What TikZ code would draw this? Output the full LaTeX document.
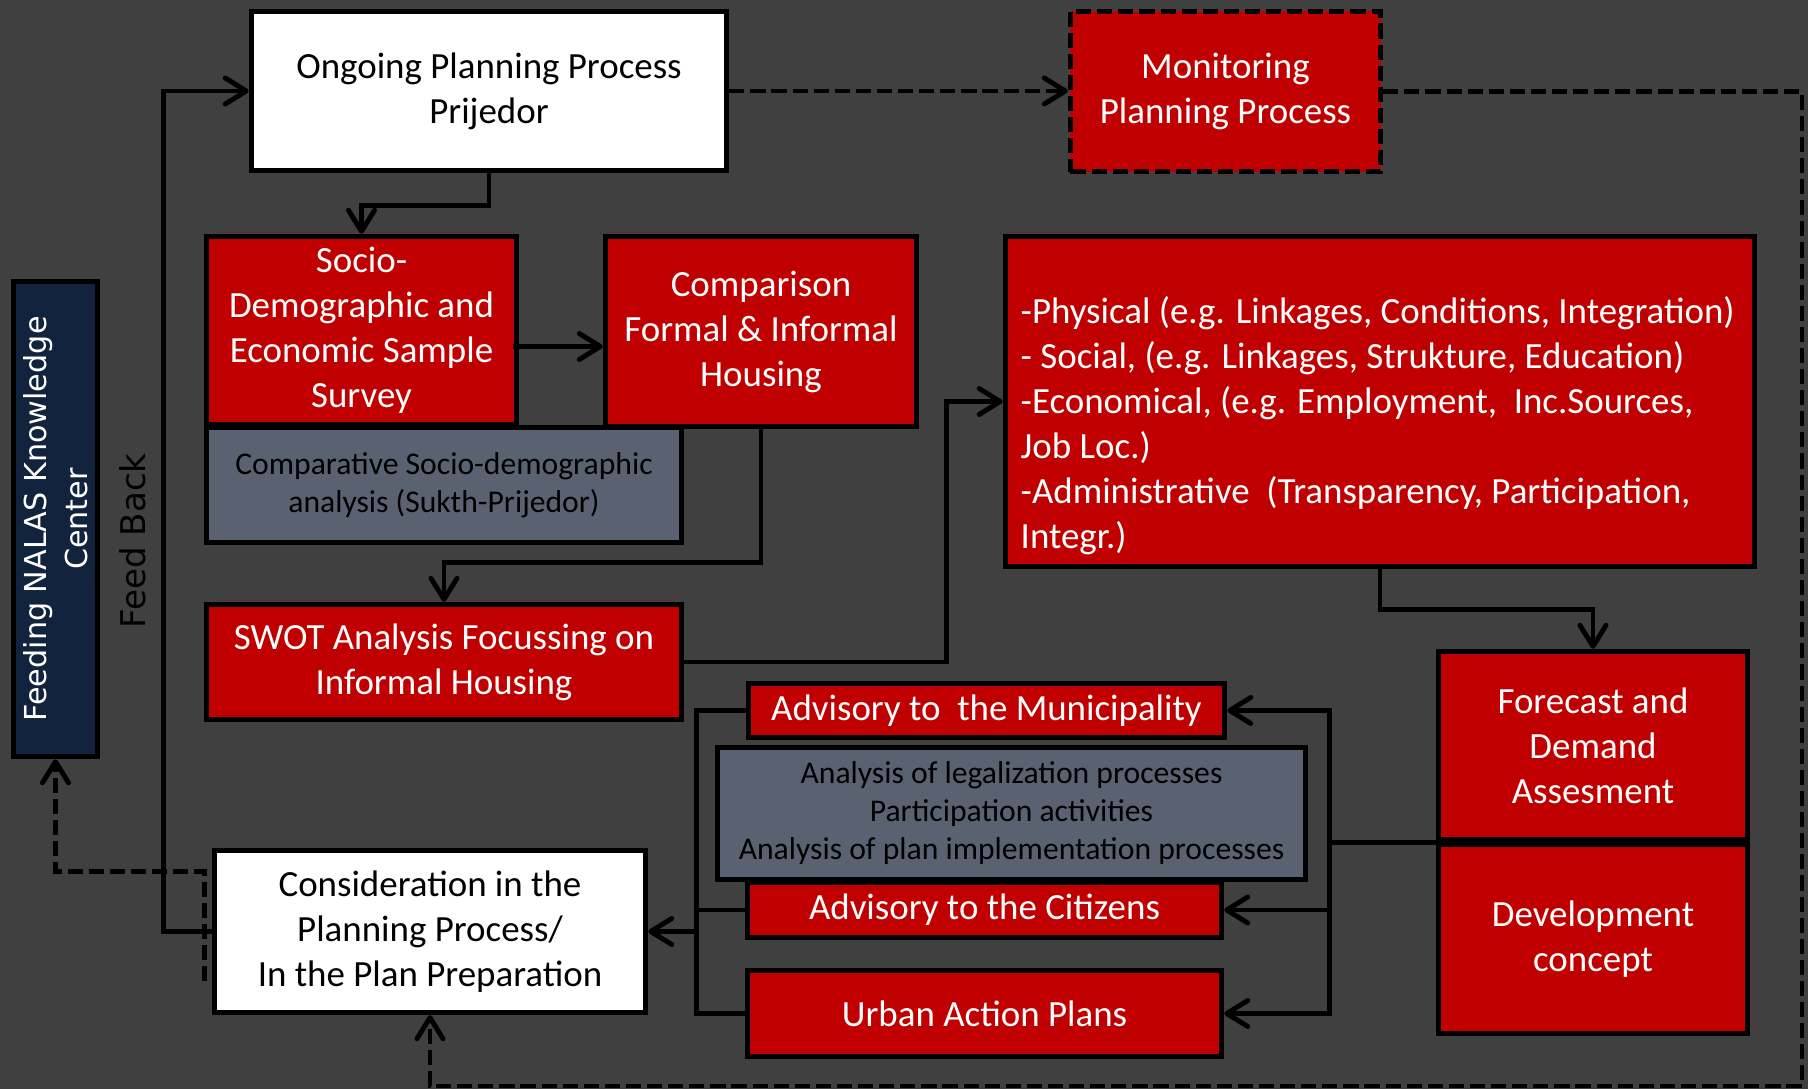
\documentclass[tikz,border=0pt]{standalone}
\usepackage{fontspec}
\setmainfont{Carlito}
\newfontfamily\gothicfont{DejaVu Sans}
\usepackage{tikz}
\usetikzlibrary{arrows.meta, calc, positioning}
\definecolor{bgdark}{HTML}{404040}
\definecolor{boxred}{HTML}{C00000}
\definecolor{slate}{HTML}{5A6271}
\definecolor{navy}{HTML}{12233D}

\begin{document}
\begin{tikzpicture}[x=0.01cm, y=-0.01cm,
  box/.style={draw=black, line width=1.5pt, inner sep=1pt, align=center,
    font=\fontsize{10.5}{12.8}\selectfont},
  whitebox/.style={box, fill=white, text=black},
  redbox/.style={box, fill=boxred, text=white},
  greybox/.style={box, fill=slate, text=black, font=\fontsize{9}{10.8}\selectfont},
  line/.style={line width=1.4pt},
  conn/.style={line, -{Straight Barb[length=2.1mm, width=2.6mm, round]}},
  dline/.style={line, dash pattern=on 4.3pt off 1.7pt},
  dconn/.style={dline, -{Straight Barb[length=2.1mm, width=2.6mm, round]}}]

% background and page size
\fill[bgdark] (0,0) rectangle (1808,1089);
\useasboundingbox (0,0) rectangle (1808,1089);

% Top row
\node[whitebox, minimum width=4.75cm, minimum height=1.59cm] (ongoing) at (489,91)
  {Ongoing Planning Process\\Prijedor};
\node[redbox, dash pattern=on 4.3pt off 1.7pt, minimum width=3.10cm, minimum height=1.60cm]
  (monitoring) at (1225.5,91.5) {Monitoring\\Planning Process};

% Survey and comparison
\node[redbox, minimum width=3.10cm, minimum height=1.88cm] (socio) at (361.5,330.5)
  {Socio-\\Demographic and\\Economic Sample\\Survey};
\node[redbox, minimum width=3.11cm, minimum height=1.90cm] (comparison) at (761,331.5)
  {Comparison\\Formal \& Informal\\Housing};
\node[greybox, minimum width=4.75cm, minimum height=1.15cm] (comparative) at (444,485)
  {Comparative Socio-demographic\\analysis (Sukth-Prijedor)};

% Aspects box
\node[redbox, minimum width=7.49cm, minimum height=3.30cm] (aspects) at (1380,401.5) {};
\node[anchor=west, text=white, align=left, inner sep=0pt,
  font=\fontsize{10.5}{12.8}\selectfont] (aspectstext) at (1020,426)
  {-Physical (e.g. Linkages, Conditions, Integration)\\
   - Social, (e.g. Linkages, Strukture, Education)\\
   -Economical, (e.g. Employment,\ \ Inc.Sources,\\
   Job Loc.)\\
   -Administrative\ \ (Transparency, Participation,\\
   Integr.)};

\node[redbox, minimum width=4.75cm, minimum height=1.15cm] (swot) at (444,662)
  {SWOT Analysis Focussing on\\Informal Housing};

% Left column
\node[box, fill=navy, text=white, minimum width=4.75cm, minimum height=0.84cm, rotate=90,
  font=\gothicfont\fontsize{8.6}{11.8}\selectfont] (feeding) at (55.5,519)
  {Feeding NALAS Knowledge\\Center};
\node[rotate=90, text=black, font=\gothicfont\fontsize{9.7}{11.8}\selectfont]
  (feedback) at (133,541) {Feed Back};
\node[whitebox, minimum width=4.31cm, minimum height=1.62cm] (consideration) at (430,931.5)
  {Consideration in the\\Planning Process/\\In the Plan Preparation};

% Advisory group
\node[redbox, minimum width=4.76cm, minimum height=0.54cm] (municipality) at (986.5,710.5)
  {Advisory to\ \ the Municipality};
\node[redbox, minimum width=4.74cm, minimum height=0.55cm] (citizens) at (984.5,910)
  {Advisory to the Citizens};
\node[greybox, minimum width=5.88cm, minimum height=1.32cm] (analysis) at (1011.5,813.5)
  {Analysis of legalization processes\\Participation activities\\Analysis of plan implementation processes};
\node[redbox, minimum width=4.74cm, minimum height=0.86cm] (urban) at (984.5,1013.5)
  {Urban Action Plans};

% Forecast and concept
\node[redbox, minimum width=3.09cm, minimum height=1.88cm] (forecast) at (1593,745.5)
  {Forecast and\\Demand\\Assesment};
\node[redbox, minimum width=3.09cm, minimum height=1.89cm] (development) at (1593,939)
  {Development\\concept};

% Main flow
\draw[conn] (ongoing.south) -- ++(0,32) -| (socio.north);
\draw[conn] ($(socio.east)+(-6,16)$) coordinate (sc) -- (sc -| comparison.west);
\draw[conn] (comparison.south) -- ++(0,133) -| (swot.north);
\draw[conn] (swot.east) -- ++(262,0) |- (aspects.west);
\draw[conn] (aspects.south) -- ++(0,40) -| (forecast.north);

% Right bus to the advisory boxes
\draw[line] (forecast.south west) -- ++(-106,0) coordinate (rb);
\draw[conn] (rb) |- (municipality.east);
\draw[conn] (rb |- citizens.east) -- (citizens.east);
\draw[conn] (rb) |- (urban.east);

% Left bus to consideration
\draw[conn] (municipality.west) -- ++(-49,0) coordinate (lb) |- (consideration.east);
\draw[line] (citizens.west) -- (citizens.west -| lb);
\draw[line] (urban.west) -| (lb);

% Feed back loop
\draw[conn] (consideration.west) -- ++(-48,0) |- (ongoing.west);

% Dashed loops
\draw[dconn] ($(consideration.west)+(-7,50)$) -- ++(0,-110) -| (feeding.west);
\draw[dconn] (ongoing.east) -- (ongoing.east -| monitoring.west);
\coordinate (cornerSE) at (1802,1086);
\draw[dconn] (monitoring.east) -| (cornerSE) -| (consideration.south);
\end{tikzpicture}
\end{document}
